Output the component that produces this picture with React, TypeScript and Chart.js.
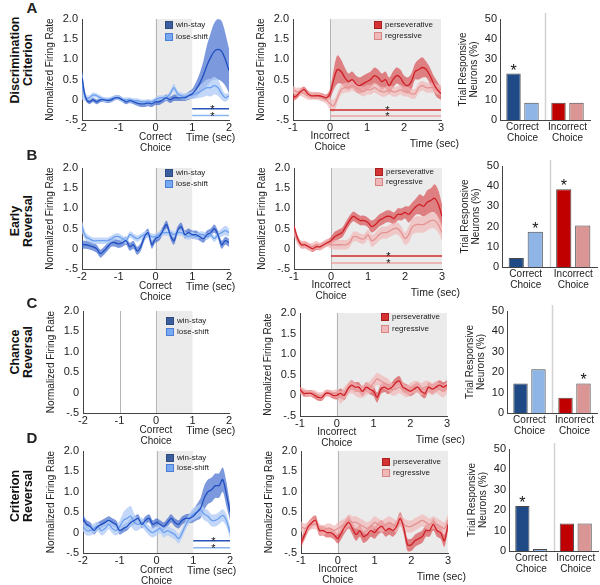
import React, { useEffect, useRef } from "react";
import { Chart, registerables } from "chart.js";
Chart.register(...registerables);

const FONT = "'Liberation Sans', Arial, Helvetica, sans-serif";
Chart.defaults.font.family = FONT;
Chart.defaults.color = "#222";

// ---------- time axes ----------
const TIME_L = [-2,-1.9,-1.8,-1.7,-1.6,-1.5,-1.4,-1.3,-1.2,-1.1,-1,-0.9,-0.8,-0.7,-0.6,-0.5,-0.4,-0.3,-0.2,-0.1,0,0.1,0.2,0.3,0.4,0.5,0.6,0.7,0.8,0.9,1,1.1,1.2,1.3,1.4,1.5,1.6,1.7,1.8,1.9,2];
const TIME_M = [-1,-0.9,-0.8,-0.7,-0.6,-0.5,-0.4,-0.3,-0.2,-0.1,0,0.1,0.2,0.3,0.4,0.5,0.6,0.7,0.8,0.9,1,1.1,1.2,1.3,1.4,1.5,1.6,1.7,1.8,1.9,2,2.1,2.2,2.3,2.4,2.5,2.6,2.7,2.8,2.9,3];

// ---------- A: Discrimination criterion ----------
const WS_A = [0.55,0.05,-0.05,0.0,-0.05,0.0,0.0,-0.02,0.0,0.05, 0.05,0.0,-0.05,-0.02,-0.05,-0.08,-0.1,-0.1,-0.08,-0.1, -0.05,-0.05,0.0,0.05,0.0,0.05,0.05,0.05,0.05,0.1, 0.15,0.25,0.4,0.6,0.85,1.05,1.2,1.25,1.2,1.0,0.72];
const WS_A_ERR = [0.2,0.08,0.06,0.06,0.06,0.06,0.06,0.06,0.06,0.06, 0.06,0.06,0.06,0.06,0.06,0.07,0.08,0.08,0.08,0.08, 0.08,0.08,0.08,0.08,0.08,0.08,0.08,0.08,0.08,0.1, 0.12,0.18,0.25,0.35,0.5,0.6,0.7,0.75,0.75,0.65,0.55];
const LS_A = [0.35,0.05,0.05,0.12,0.1,0.05,0.0,0.0,0.02,0.05, 0.05,0.0,0.0,0.0,-0.02,-0.02,-0.05,-0.05,-0.05,-0.05, 0.0,0.05,0.05,0.05,0.15,0.3,0.15,0.1,0.08,0.1, 0.12,0.15,0.2,0.25,0.3,0.3,0.35,0.3,0.15,0.05,0.1];
const LS_A_ERR = [0.35,0.08,0.06,0.06,0.06,0.06,0.06,0.06,0.06,0.06, 0.06,0.06,0.06,0.06,0.06,0.06,0.06,0.06,0.06,0.06, 0.06,0.06,0.06,0.06,0.08,0.1,0.08,0.08,0.08,0.08, 0.1,0.12,0.15,0.18,0.2,0.22,0.22,0.2,0.15,0.1,0.08];
const PV_A = [0.05,0.1,0.2,0.25,0.15,0.1,0.1,0.1,0.08,0.05, 0.15, 0.5,0.75,0.7,0.55,0.45,0.5,0.4,0.35,0.4,0.45, 0.5,0.6,0.55,0.45,0.5,0.35,0.5,0.6,0.55,0.4, 0.35,0.45,0.7,0.75,0.8,0.75,0.6,0.4,0.25,0.15];
const PV_A_ERR = [0.08,0.08,0.08,0.08,0.08,0.08,0.08,0.08,0.08,0.08, 0.12, 0.25,0.35,0.3,0.25,0.2,0.2,0.2,0.2,0.2,0.2, 0.2,0.2,0.2,0.2,0.2,0.2,0.2,0.2,0.2,0.2, 0.2,0.2,0.2,0.25,0.25,0.2,0.2,0.2,0.2,0.15];
const RG_A = [0.25,0.2,0.2,0.15,0.1,0.1,0.1,0.08,0.05,0.0, -0.1, -0.15,0.05,0.25,0.3,0.3,0.35,0.3,0.25,0.2,0.25, 0.25,0.3,0.25,0.2,0.2,0.25,0.2,0.2,0.25,0.2, 0.2,0.15,0.15,0.3,0.35,0.3,0.3,0.3,0.25,0.25];
const RG_A_ERR = [0.1,0.1,0.1,0.1,0.1,0.1,0.1,0.1,0.1,0.1, 0.15, 0.15,0.12,0.12,0.12,0.12,0.12,0.12,0.12,0.12,0.12, 0.12,0.12,0.12,0.12,0.12,0.12,0.12,0.12,0.12,0.12, 0.12,0.12,0.12,0.12,0.12,0.12,0.12,0.12,0.12,0.12];

// ---------- B: Early reversal ----------
const WS_B = [0.1,0.1,0.08,0.05,0.0,-0.12,-0.05,0.05,0.15,0.15, 0.12,0.15,0.2,0.05,0.1,-0.05,0.05,0.3,0.4,0.1, 0.25,0.3,0.45,0.6,0.35,0.2,0.45,0.55,0.35,0.4, 0.35,0.35,0.3,0.25,0.35,0.4,0.5,0.35,0.1,0.2,0.15];
const WS_B_ERR = [0.1,0.1,0.1,0.1,0.1,0.1,0.1,0.1,0.1,0.1, 0.1,0.1,0.1,0.1,0.1,0.1,0.1,0.1,0.1,0.1, 0.1,0.1,0.1,0.1,0.1,0.1,0.1,0.1,0.1,0.1, 0.1,0.1,0.1,0.1,0.1,0.1,0.1,0.1,0.1,0.1,0.1];
const LS_B = [0.55,0.3,0.25,0.2,0.2,0.2,0.2,0.2,0.25,0.3, 0.3,0.25,0.2,0.35,0.3,0.25,0.3,0.35,0.35,0.3, 0.3,0.35,0.4,0.4,0.4,0.35,0.4,0.4,0.35,0.3, 0.35,0.3,0.35,0.35,0.3,0.35,0.25,0.35,0.4,0.45,0.4];
const LS_B_ERR = [0.15,0.1,0.08,0.08,0.08,0.08,0.08,0.08,0.08,0.08, 0.08,0.08,0.08,0.08,0.08,0.08,0.08,0.08,0.08,0.08, 0.08,0.08,0.08,0.08,0.08,0.08,0.08,0.08,0.08,0.08, 0.08,0.08,0.08,0.08,0.08,0.08,0.08,0.08,0.1,0.12,0.1];
const PV_B = [0.55,0.25,0.1,0.1,0.05,0.0,0.05,0.05,0.1,0.15, 0.2, 0.3,0.35,0.4,0.55,0.7,0.8,0.75,0.7,0.7,0.65, 0.55,0.6,0.7,0.75,0.8,0.8,0.75,0.85,0.85,0.9, 0.85,0.95,1.05,1.1,1.05,1.15,1.2,1.25,1.1,0.8];
const PV_B_ERR = [0.08,0.08,0.08,0.08,0.08,0.08,0.08,0.08,0.08,0.08, 0.1, 0.12,0.12,0.12,0.12,0.12,0.12,0.12,0.12,0.12,0.12, 0.15,0.15,0.15,0.15,0.15,0.15,0.15,0.15,0.15,0.15, 0.2,0.2,0.2,0.25,0.25,0.3,0.3,0.35,0.35,0.3];
const RG_B = [0.4,0.2,0.1,0.1,0.05,0.05,0.1,0.05,0.1,0.15, 0.1, 0.1,0.1,0.1,0.1,0.15,0.3,0.3,0.25,0.25,0.35, 0.2,0.25,0.35,0.4,0.4,0.45,0.5,0.5,0.4,0.25, 0.35,0.55,0.6,0.6,0.6,0.65,0.7,0.7,0.6,0.4];
const RG_B_ERR = [0.1,0.1,0.1,0.1,0.1,0.1,0.1,0.1,0.1,0.1, 0.1, 0.12,0.12,0.12,0.12,0.12,0.12,0.12,0.12,0.12,0.12, 0.15,0.15,0.15,0.15,0.15,0.15,0.15,0.15,0.15,0.15, 0.2,0.2,0.2,0.2,0.2,0.2,0.2,0.2,0.2,0.2];

// ---------- C: Chance reversal ----------
const PV_C = [0.15,0.05,0.05,0.05,0.0,-0.05,-0.05,0.05,0.05,0.0, 0.0, 0.05,0.0,0.15,0.25,0.2,0.2,0.1,0.2,0.15,0.1, -0.05,0.15,0.2,0.15,0.2,0.3,0.35,0.2,0.15,0.1, 0.15,0.2,0.1,0.05,0.2,0.15,0.2,0.25,0.2,0.25];
const PV_C_ERR = [0.08,0.08,0.08,0.08,0.08,0.08,0.08,0.08,0.08,0.08, 0.1, 0.12,0.12,0.12,0.12,0.12,0.12,0.12,0.12,0.12,0.12, 0.12,0.12,0.12,0.12,0.12,0.12,0.12,0.12,0.12,0.12, 0.12,0.12,0.12,0.12,0.12,0.12,0.12,0.12,0.12,0.12];
const RG_C = [0.1,0.1,0.05,0.05,0.05,0.0,0.0,0.05,0.05,0.05, 0.05, -0.05,0.05,0.15,0.2,0.15,0.1,0.1,0.15,0.2,0.3, 0.4,0.35,0.3,0.25,0.15,0.15,0.2,0.15,0.1,0.15, 0.2,0.2,0.15,0.2,0.2,0.15,0.2,0.15,0.1,0.2];
const RG_C_ERR = [0.08,0.08,0.08,0.08,0.08,0.08,0.08,0.08,0.08,0.08, 0.1, 0.15,0.15,0.15,0.15,0.15,0.15,0.15,0.15,0.15,0.15, 0.15,0.15,0.15,0.15,0.15,0.15,0.15,0.15,0.15,0.15, 0.15,0.15,0.15,0.15,0.15,0.15,0.15,0.15,0.15,0.15];

// ---------- D: Criterion reversal ----------
const WS_D = [0.35,0.2,0.15,0.05,0.15,0.2,0.25,0.3,0.25,0.2, 0.05,0.1,0.15,0.25,0.3,0.35,0.2,0.3,0.35,0.2, 0.25,0.2,0.15,0.25,0.35,0.25,0.2,0.3,0.35,0.35, 0.4,0.5,0.6,0.85,1.0,1.05,1.15,1.15,1.3,0.95,0.5];
const WS_D_ERR = [0.1,0.1,0.1,0.1,0.1,0.1,0.1,0.1,0.1,0.1, 0.1,0.1,0.1,0.1,0.1,0.1,0.1,0.1,0.1,0.1, 0.1,0.1,0.1,0.1,0.1,0.1,0.1,0.1,0.1,0.12, 0.15,0.2,0.25,0.3,0.3,0.3,0.3,0.3,0.3,0.3,0.2];
const LS_D = [0.15,0.05,0.05,0.1,0.15,0.05,0.1,0.2,0.1,0.05, 0.15,0.3,0.35,0.4,0.25,0.2,0.25,0.15,0.05,0.0, 0.05,0.1,0.0,0.05,0.0,-0.05,-0.15,0.0,0.2,0.35, 0.45,0.5,0.55,0.45,0.4,0.3,0.3,0.35,0.42,0.3,0.0];
const LS_D_ERR = [0.12,0.12,0.12,0.12,0.12,0.12,0.12,0.12,0.12,0.12, 0.15,0.2,0.25,0.25,0.2,0.15,0.12,0.12,0.12,0.12, 0.12,0.12,0.12,0.12,0.12,0.12,0.12,0.12,0.12,0.12, 0.15,0.15,0.15,0.15,0.15,0.15,0.15,0.15,0.15,0.15,0.15];
const PV_D = [-0.25,-0.05,0.15,0.25,0.3,0.05,0.05,0.0,0.0,-0.05, -0.15, 0.0,0.15,0.25,0.1,-0.05,0.05,-0.1,-0.05,0.05,0.0, 0.1,0.15,0.05,0.1,0.05,0.15,0.35,0.1,-0.3,-0.3, -0.2,-0.15,-0.1,0.05,0.05,0.2,0.05,0.0,-0.2,0.2];
const PV_D_ERR = [0.12,0.12,0.12,0.12,0.12,0.12,0.12,0.12,0.12,0.12, 0.12, 0.15,0.15,0.15,0.15,0.15,0.15,0.15,0.15,0.15,0.15, 0.15,0.15,0.15,0.15,0.15,0.15,0.15,0.15,0.15,0.15, 0.15,0.15,0.15,0.15,0.15,0.15,0.15,0.15,0.15,0.15];
const RG_D = [0.15,0.1,0.15,0.2,0.2,0.1,0.05,0.1,0.1,0.05, 0.1, 0.15,0.2,0.3,0.25,0.25,0.2,0.15,0.1,0.15,0.25, 0.2,0.15,0.2,0.25,0.2,0.15,0.3,0.2,0.15,0.15, 0.2,0.25,0.3,0.25,0.2,0.25,0.2,0.15,0.1,0.3];
const RG_D_ERR = [0.12,0.12,0.12,0.12,0.12,0.12,0.12,0.12,0.12,0.12, 0.15, 0.15,0.15,0.15,0.15,0.15,0.15,0.15,0.15,0.15,0.15, 0.15,0.15,0.15,0.15,0.15,0.15,0.15,0.15,0.15,0.15, 0.15,0.15,0.15,0.15,0.15,0.15,0.15,0.15,0.15,0.15];

// ---------- significance bar levels (y value of line) ----------
const SIG_LEFT_A = [-0.22, -0.39];
const SIG_MID_A = [-0.25, -0.4];
const SIG_MID_B = [-0.18, -0.35];
const SIG_LEFT_D = [-0.2, -0.37];

// ---------- trial responsive neurons (%) rows A..D ----------
const CATEGORIES = [["Correct", "Choice"], ["Incorrect", "Choice"]];
const BAR_WINSTAY = [23, 4.5, 14.5, 22];
const BAR_LOSESHIFT = [8.5, 17.5, 21.5, 1];
const BAR_PERSEV = [8.5, 38.5, 7.5, 13.5];
const BAR_REGRESS = [8.5, 20.5, 14.5, 13.5];
// significance flags: [win-stay, lose-shift, perseverative, regressive]
const BAR_SIG = [[1, 0, 0, 0], [0, 1, 1, 0], [0, 0, 0, 1], [1, 0, 0, 0]];

// ---------- colours ----------
const COL = {
  wsLine: "#1f4fc0", wsBand: "rgba(45,90,200,0.62)",
  lsLine: "#6b9ff0", lsBand: "rgba(178,205,246,0.78)",
  pvLine: "#cf2027", pvBand: "rgba(214,55,60,0.6)",
  rgLine: "#e49393", rgBand: "rgba(241,182,182,0.68)",
  wsSig: "#2a55b8", lsSig: "#8ab4f0", pvSig: "#d02a2a", rgSig: "#eaa5a5",
  barWs: "#1f4a85", barLs: "#8fb5e6", barPv: "#c00000", barRg: "#d99694",
};

type Box = { L: number; T: number; R: number; B: number };
type Series = { mean: number[]; err: number[]; line: string; band: string };
type Sig = { y: number; from: number; to: number; color: string };

const yFmt = (v: any) => (v < 0 ? "-.5" : v === 0 ? "0" : Number(v).toFixed(1));

function LinePanel(props: { box: Box; times: number[]; xMin: number; xMax: number; shadeTo: number; vlines: number[]; series: Series[]; sigs: Sig[] }) {
  const { box, times, xMin, xMax, shadeTo, vlines, series, sigs } = props;
  const ref = useRef<HTMLCanvasElement>(null);
  const YW = 40, XH = 20, PT = 7, PR = 8;
  const w = box.R - box.L + YW + PR;
  const h = box.B - box.T + XH + PT;
  useEffect(() => {
    const datasets: any[] = [];
    const bandOrder = [10, 8];
    const lineOrder = [6, 7];
    series.forEach((s, k) => {
      const pts = (f: (i: number) => number) => times.map((t, i) => ({ x: t, y: f(i) }));
      datasets.push({ data: pts((i) => s.mean[i] + s.err[i]), fill: "+1", backgroundColor: s.band, borderColor: "transparent", borderWidth: 0, pointRadius: 0, tension: 0.3, order: bandOrder[k] });
      datasets.push({ data: pts((i) => s.mean[i] - s.err[i]), fill: false, borderColor: "transparent", borderWidth: 0, pointRadius: 0, tension: 0.3, order: bandOrder[k] });
      datasets.push({ data: pts((i) => s.mean[i]), fill: false, borderColor: s.line, borderWidth: 1.3, pointRadius: 0, tension: 0.3, order: lineOrder[k] });
    });
    sigs.forEach((sg) =>
      datasets.push({ data: [{ x: sg.from, y: sg.y }, { x: sg.to, y: sg.y }], fill: false, borderColor: sg.color, borderWidth: 1.5, pointRadius: 0, order: 1 })
    );
    const shade = {
      id: "shade",
      beforeDraw(chart: any) {
        const { ctx, chartArea, scales } = chart;
        const x = scales.x;
        ctx.save();
        ctx.fillStyle = "#ebebeb";
        const x0 = x.getPixelForValue(0), x1 = x.getPixelForValue(shadeTo);
        ctx.fillRect(x0, chartArea.top, x1 - x0, chartArea.bottom - chartArea.top);
        ctx.strokeStyle = "#b5b5b5";
        ctx.lineWidth = 1;
        vlines.forEach((v) => {
          const px = Math.round(x.getPixelForValue(v)) + 0.5;
          ctx.beginPath();
          ctx.moveTo(px, chartArea.top);
          ctx.lineTo(px, chartArea.bottom);
          ctx.stroke();
        });
        ctx.restore();
      },
      afterDatasetsDraw(chart: any) {
        const { ctx, scales } = chart;
        ctx.save();
        ctx.fillStyle = "#111";
        ctx.font = `11px ${FONT}`;
        ctx.textAlign = "center";
        ctx.textBaseline = "alphabetic";
        sigs.forEach((sg) => {
          ctx.fillText("*", scales.x.getPixelForValue((sg.from + sg.to) / 2 + 0.05), scales.y.getPixelForValue(sg.y) + 4);
        });
        ctx.restore();
      },
    };
    const chart = new Chart(ref.current as HTMLCanvasElement, {
      type: "line",
      data: { datasets },
      plugins: [shade],
      options: {
        responsive: false,
        animation: false,
        devicePixelRatio: 1,
        layout: { padding: { top: PT, right: PR, left: 0, bottom: 0 } },
        plugins: { legend: { display: false }, tooltip: { enabled: false } },
        scales: {
          x: {
            type: "linear", min: xMin, max: xMax,
            ticks: { stepSize: 1, font: { size: 11 }, color: "#222", padding: 1, maxRotation: 0, autoSkip: false, callback: (v: any) => String(v) },
            grid: { display: false, drawTicks: false },
            border: { display: true, color: "#444", width: 1 },
            afterFit: (s: any) => { s.height = XH; s.paddingLeft = 0; s.paddingRight = 0; },
          },
          y: {
            min: -0.5, max: 2,
            ticks: { stepSize: 0.5, font: { size: 11 }, color: "#222", padding: 4, callback: yFmt },
            grid: { display: false, drawTicks: false },
            border: { display: true, color: "#444", width: 1 },
            title: { display: true, text: "Normalized Firing Rate", font: { size: 10 }, color: "#222", padding: { top: 2, bottom: 0 } },
            afterFit: (s: any) => { s.width = YW; s.paddingTop = 0; s.paddingBottom = 0; },
          },
        },
      } as any,
    });
    return () => chart.destroy();
  }, []);
  return <canvas ref={ref} width={w} height={h} style={{ position: "absolute", left: box.L - YW, top: box.T - PT, width: w, height: h }} />;
}

function BarPanel(props: { box: Box; row: number }) {
  const { box, row } = props;
  const ref = useRef<HTMLCanvasElement>(null);
  const YW = 45, XH = 32, PT = 10, PR = Math.min(10, 600 - box.R);
  const w = box.R - box.L + YW + PR;
  const h = box.B - box.T + XH + PT;
  useEffect(() => {
    const sig = BAR_SIG[row];
    const common = { borderColor: "#4a4a4a", borderWidth: 1, categoryPercentage: 0.8, barPercentage: 0.8 };
    const datasets: any[] = [
      { data: [BAR_WINSTAY[row], BAR_PERSEV[row]], backgroundColor: [COL.barWs, COL.barPv], ...common },
      { data: [BAR_LOSESHIFT[row], BAR_REGRESS[row]], backgroundColor: [COL.barLs, COL.barRg], ...common },
    ];
    const sigFlags = [[sig[0], sig[2]], [sig[1], sig[3]]];
    const deco = {
      id: "deco",
      beforeDatasetsDraw(chart: any) {
        const { ctx, chartArea, scales } = chart;
        const px = Math.round((scales.x.getPixelForValue(0) + scales.x.getPixelForValue(1)) / 2) + 0.5;
        ctx.save();
        ctx.strokeStyle = "#d2d2d2";
        ctx.lineWidth = 1.5;
        ctx.beginPath();
        ctx.moveTo(px, chartArea.top - 6);
        ctx.lineTo(px, chartArea.bottom);
        ctx.stroke();
        ctx.restore();
      },
      afterDatasetsDraw(chart: any) {
        const { ctx } = chart;
        ctx.save();
        ctx.fillStyle = "#111";
        ctx.font = `16px ${FONT}`;
        ctx.textAlign = "center";
        ctx.textBaseline = "alphabetic";
        sigFlags.forEach((flags, d) => {
          const meta = chart.getDatasetMeta(d);
          flags.forEach((f: number, i: number) => {
            if (!f) return;
            const el = meta.data[i];
            ctx.fillText("*", el.x, el.y + 2);
          });
        });
        ctx.restore();
      },
    };
    const chart = new Chart(ref.current as HTMLCanvasElement, {
      type: "bar",
      data: { labels: CATEGORIES, datasets },
      plugins: [deco],
      options: {
        responsive: false,
        animation: false,
        devicePixelRatio: 1,
        layout: { padding: { top: PT, right: PR, left: 0, bottom: 0 } },
        plugins: { legend: { display: false }, tooltip: { enabled: false } },
        scales: {
          x: {
            ticks: { font: { size: 10, lineHeight: 1.1 }, color: "#222", padding: 2, maxRotation: 0, autoSkip: false },
            grid: { display: false, drawTicks: false },
            border: { display: true, color: "#444", width: 1 },
            afterFit: (s: any) => { s.height = XH; s.paddingLeft = 0; s.paddingRight = 0; },
          },
          y: {
            min: 0, max: 50,
            ticks: { stepSize: 10, font: { size: 11 }, color: "#222", padding: 3 },
            grid: { display: false, drawTicks: false },
            border: { display: true, color: "#444", width: 1 },
            title: { display: true, text: ["Trial Responsive", "Neurons (%)"], font: { size: 10, lineHeight: 1.05 }, color: "#222", padding: { top: 3, bottom: 0 } },
            afterFit: (s: any) => { s.width = YW; s.paddingTop = 0; s.paddingBottom = 0; },
          },
        },
      } as any,
    });
    return () => chart.destroy();
  }, []);
  return <canvas ref={ref} width={w} height={h} style={{ position: "absolute", left: box.L - YW, top: box.T - PT, width: w, height: h }} />;
}

// ---------- layout (page pixel positions of plot areas) ----------
const LAYOUT = [
  { letter: "A", letterY: 7, label: ["Discrimination", "Criterion"], labelY: 60,
    left: { L: 82, T: 19, R: 229, B: 120 }, mid: { L: 293, T: 19, R: 441, B: 120 }, right: { L: 500, T: 19, R: 590, B: 120 },
    legL: [6, 18], legM: [6, 17] },
  { letter: "B", letterY: 154, label: ["Early", "Reversal"], labelY: 221,
    left: { L: 82, T: 168, R: 229, B: 269 }, mid: { L: 294, T: 168, R: 442, B: 269 }, right: { L: 502, T: 166, R: 597, B: 267 },
    legL: [5, 16], legM: [4, 14] },
  { letter: "C", letterY: 302, label: ["Chance", "Reversal"], labelY: 352,
    left: { L: 83, T: 311, R: 229, B: 413 }, mid: { L: 300, T: 313, R: 447, B: 416 }, right: { L: 507, T: 311, R: 597, B: 413 },
    legL: [10, 21], legM: [4, 16] },
  { letter: "D", letterY: 437, label: ["Criterion", "Reversal"], labelY: 496,
    left: { L: 83, T: 451, R: 230, B: 553 }, mid: { L: 301, T: 451, R: 448, B: 553 }, right: { L: 509, T: 449, R: 598, B: 551 },
    legL: [7, 17], legM: [11, 22] },
];

const LEFT_SERIES: Series[][] = [
  [{ mean: WS_A, err: WS_A_ERR, line: COL.wsLine, band: COL.wsBand }, { mean: LS_A, err: LS_A_ERR, line: COL.lsLine, band: COL.lsBand }],
  [{ mean: WS_B, err: WS_B_ERR, line: COL.wsLine, band: COL.wsBand }, { mean: LS_B, err: LS_B_ERR, line: COL.lsLine, band: COL.lsBand }],
  [],
  [{ mean: WS_D, err: WS_D_ERR, line: COL.wsLine, band: COL.wsBand }, { mean: LS_D, err: LS_D_ERR, line: COL.lsLine, band: COL.lsBand }],
];
const MID_SERIES: Series[][] = [
  [{ mean: PV_A, err: PV_A_ERR, line: COL.pvLine, band: COL.pvBand }, { mean: RG_A, err: RG_A_ERR, line: COL.rgLine, band: COL.rgBand }],
  [{ mean: PV_B, err: PV_B_ERR, line: COL.pvLine, band: COL.pvBand }, { mean: RG_B, err: RG_B_ERR, line: COL.rgLine, band: COL.rgBand }],
  [{ mean: PV_C, err: PV_C_ERR, line: COL.pvLine, band: COL.pvBand }, { mean: RG_C, err: RG_C_ERR, line: COL.rgLine, band: COL.rgBand }],
  [{ mean: PV_D, err: PV_D_ERR, line: COL.pvLine, band: COL.pvBand }, { mean: RG_D, err: RG_D_ERR, line: COL.rgLine, band: COL.rgBand }],
];
const leftSig = (lv: number[]): Sig[] => [
  { y: lv[0], from: 1, to: 2, color: COL.wsSig },
  { y: lv[1], from: 1, to: 2, color: COL.lsSig },
];
const midSig = (lv: number[]): Sig[] => [
  { y: lv[0], from: 0, to: 3, color: COL.pvSig },
  { y: lv[1], from: 0, to: 3, color: COL.rgSig },
];
const LEFT_SIGS: Sig[][] = [leftSig(SIG_LEFT_A), [], [], leftSig(SIG_LEFT_D)];
const MID_SIGS: Sig[][] = [midSig(SIG_MID_A), midSig(SIG_MID_B), [], []];

const LEG_LEFT = [
  { name: "win-stay", fill: "#3b5e9e", border: "#2d4a80" },
  { name: "lose-shift", fill: "#78a8f2", border: "#4b7fd6" },
];
const LEG_MID = [
  { name: "perseverative", fill: "#d53333", border: "#a62020" },
  { name: "regressive", fill: "#f0b8b8", border: "#d68585" },
];

function Txt(props: { x: number; y: number; text: string; size?: number; bold?: boolean; anchor?: "center" | "left" | "right" }) {
  const { x, y, text, size = 10, bold = false, anchor = "center" } = props;
  const tx = anchor === "center" ? "-50%" : anchor === "left" ? "0" : "-100%";
  return (
    <div style={{ position: "absolute", left: x, top: y, transform: `translate(${tx},-50%)`, fontSize: size, fontWeight: bold ? "bold" : "normal", lineHeight: 1, whiteSpace: "nowrap", color: "#222", fontFamily: FONT }}>
      {text}
    </div>
  );
}

function Legend(props: { x: number; ys: number[]; items: { name: string; fill: string; border: string }[] }) {
  const { x, ys, items } = props;
  return (
    <>
      {items.map((it, i) => (
        <React.Fragment key={i}>
          <div style={{ position: "absolute", left: x, top: ys[i] - 4, width: 8, height: 8, boxSizing: "border-box", background: it.fill, border: `1px solid ${it.border}` }} />
          <Txt x={x + 11} y={ys[i]} text={it.name} size={8} anchor="left" />
        </React.Fragment>
      ))}
    </>
  );
}

export default function App() {
  return (
    <div style={{ position: "absolute", left: 0, top: 0, width: 600, height: 585, background: "#fff", overflow: "hidden", fontFamily: FONT }}>
      {LAYOUT.map((r, ri) => {
        const lx0 = r.left.L + (r.left.R - r.left.L) / 2;
        const mx0 = r.mid.L + (r.mid.R - r.mid.L) / 4;
        return (
          <React.Fragment key={ri}>
            <LinePanel box={r.left} times={TIME_L} xMin={-2} xMax={2} shadeTo={1} vlines={ri === 2 ? [-1, 0] : [0]} series={LEFT_SERIES[ri]} sigs={LEFT_SIGS[ri]} />
            <LinePanel box={r.mid} times={TIME_M} xMin={-1} xMax={3} shadeTo={3} vlines={[0]} series={MID_SERIES[ri]} sigs={MID_SIGS[ri]} />
            <BarPanel box={r.right} row={ri} />
            <Txt x={32} y={r.letterY} text={r.letter} size={15} bold />
            <div style={{ position: "absolute", left: 22, top: r.labelY, transform: "translate(-50%,-50%) rotate(-90deg)", fontSize: 12.5, fontWeight: "bold", lineHeight: "13px", textAlign: "center", whiteSpace: "nowrap", color: "#111", fontFamily: FONT }}>
              {r.label[0]}<br />{r.label[1]}
            </div>
            <Legend x={r.left.L + 83} ys={[r.left.T + r.legL[0], r.left.T + r.legL[1]]} items={LEG_LEFT} />
            <Legend x={r.mid.L + 81} ys={[r.mid.T + r.legM[0], r.mid.T + r.legM[1]]} items={LEG_MID} />
            <Txt x={lx0} y={r.left.B + 17} text="Correct" />
            <Txt x={lx0} y={r.left.B + 28} text="Choice" />
            <Txt x={r.left.L + (r.left.R - r.left.L) * 0.875} y={r.left.B + 17} text="Time (sec)" size={10.5} />
            <Txt x={mx0} y={r.mid.B + 16} text="Incorrect" />
            <Txt x={mx0} y={r.mid.B + 27} text="Choice" />
            <Txt x={r.mid.R + 18} y={r.mid.B + 23} text="Time (sec)" size={10.5} anchor="right" />
          </React.Fragment>
        );
      })}
    </div>
  );
}
